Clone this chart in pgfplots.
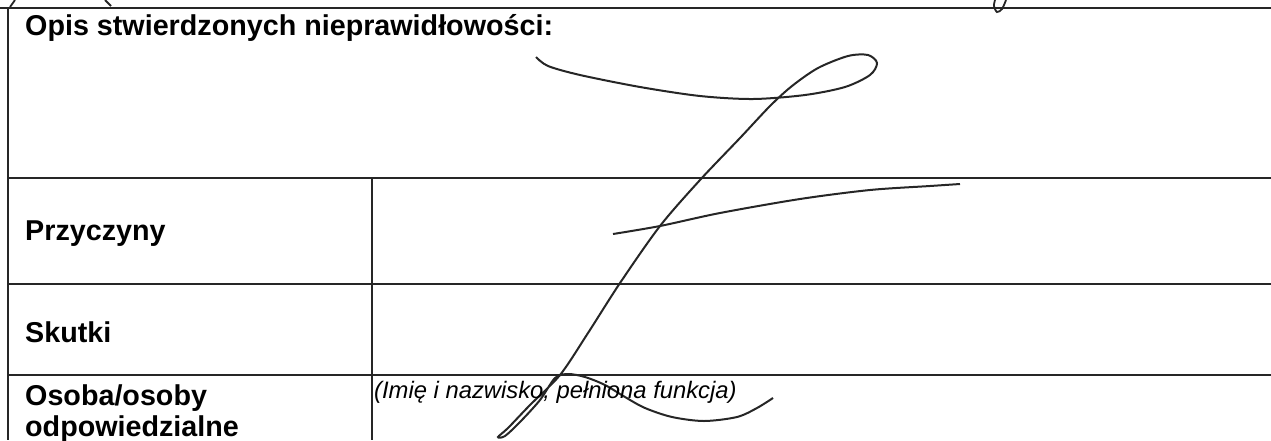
\documentclass[border=0pt]{standalone}
\usepackage{fontspec}
\setmainfont{Liberation Sans}
\usepackage{pgfplots}
\pgfplotsset{compat=1.18}
\begin{document}
\begin{tikzpicture}
\begin{axis}[width=1271pt,height=440pt,scale only axis,
  xmin=0,xmax=1271,ymin=0,ymax=440,y dir=reverse,hide axis,clip=false]
% table rules
\addplot[black!85, line width=2.2pt] coordinates {(0,8) (1271,8)};
\addplot[black!85, line width=2.2pt] coordinates {(8,8) (8,440)};
\addplot[black!85, line width=2.2pt] coordinates {(8,178) (1271,178)};
\addplot[black!85, line width=2.2pt] coordinates {(8,284) (1271,284)};
\addplot[black!85, line width=2.2pt] coordinates {(8,375) (1271,375)};
\addplot[black!85, line width=2.2pt] coordinates {(372,178) (372,440)};
% signature
\addplot[black!85, line width=2pt, smooth, tension=0.5] coordinates {
(536,57) (548,66) (580,75) (640,87) (700,96) (753,99) (805,95) (845,87)
(870,75) (877,63) (868,55) (848,56) (818,68) (792,86) (770,106) (740,138)
(700,180) (660,226) (620,283) (588,333) (560,375) (530,405) (508,428)
(498,437) (505,436) (520,422) (540,400) (555,378) (568,374) (585,377)
(605,385) (625,397) (645,408) (672,417) (704,421) (737,417) (757,408) (773,398)};
\addplot[black!85, line width=2pt, smooth, tension=0.5] coordinates {
(613,234) (660,226) (720,213) (800,199) (870,190) (930,186) (960,184)};
\addplot[black!85, line width=1.8pt, smooth] coordinates {
(995,0) (994,6) (997,12) (1002,9) (1006,0)};
\addplot[black!85, line width=1.8pt] coordinates {(10,7) (15,0)};
\addplot[black!85, line width=1.8pt] coordinates {(105,0) (111,6)};
% texts
\node[anchor=base west, inner sep=0, font=\fontsize{28.7}{34}\selectfont\bfseries]
  at (axis cs:25,35) {Opis stwierdzonych nieprawidłowości:};
\node[anchor=base west, inner sep=0, font=\fontsize{28.7}{34}\selectfont\bfseries]
  at (axis cs:25,240) {Przyczyny};
\node[anchor=base west, inner sep=0, font=\fontsize{28.7}{34}\selectfont\bfseries]
  at (axis cs:25,342) {Skutki};
\node[anchor=base west, inner sep=0, font=\fontsize{28.7}{34}\selectfont\bfseries]
  at (axis cs:25,405) {Osoba/osoby};
\node[anchor=base west, inner sep=0, font=\fontsize{28.7}{34}\selectfont\bfseries]
  at (axis cs:25,436) {odpowiedzialne};
\node[anchor=base west, inner sep=0, font=\fontsize{23.8}{28}\selectfont\itshape]
  at (axis cs:374,398) {(Imię i nazwisko, pełniona funkcja)};
\end{axis}
\pgfresetboundingbox
\useasboundingbox (0,0) rectangle (1271pt,440pt);
\end{tikzpicture}
\end{document}
